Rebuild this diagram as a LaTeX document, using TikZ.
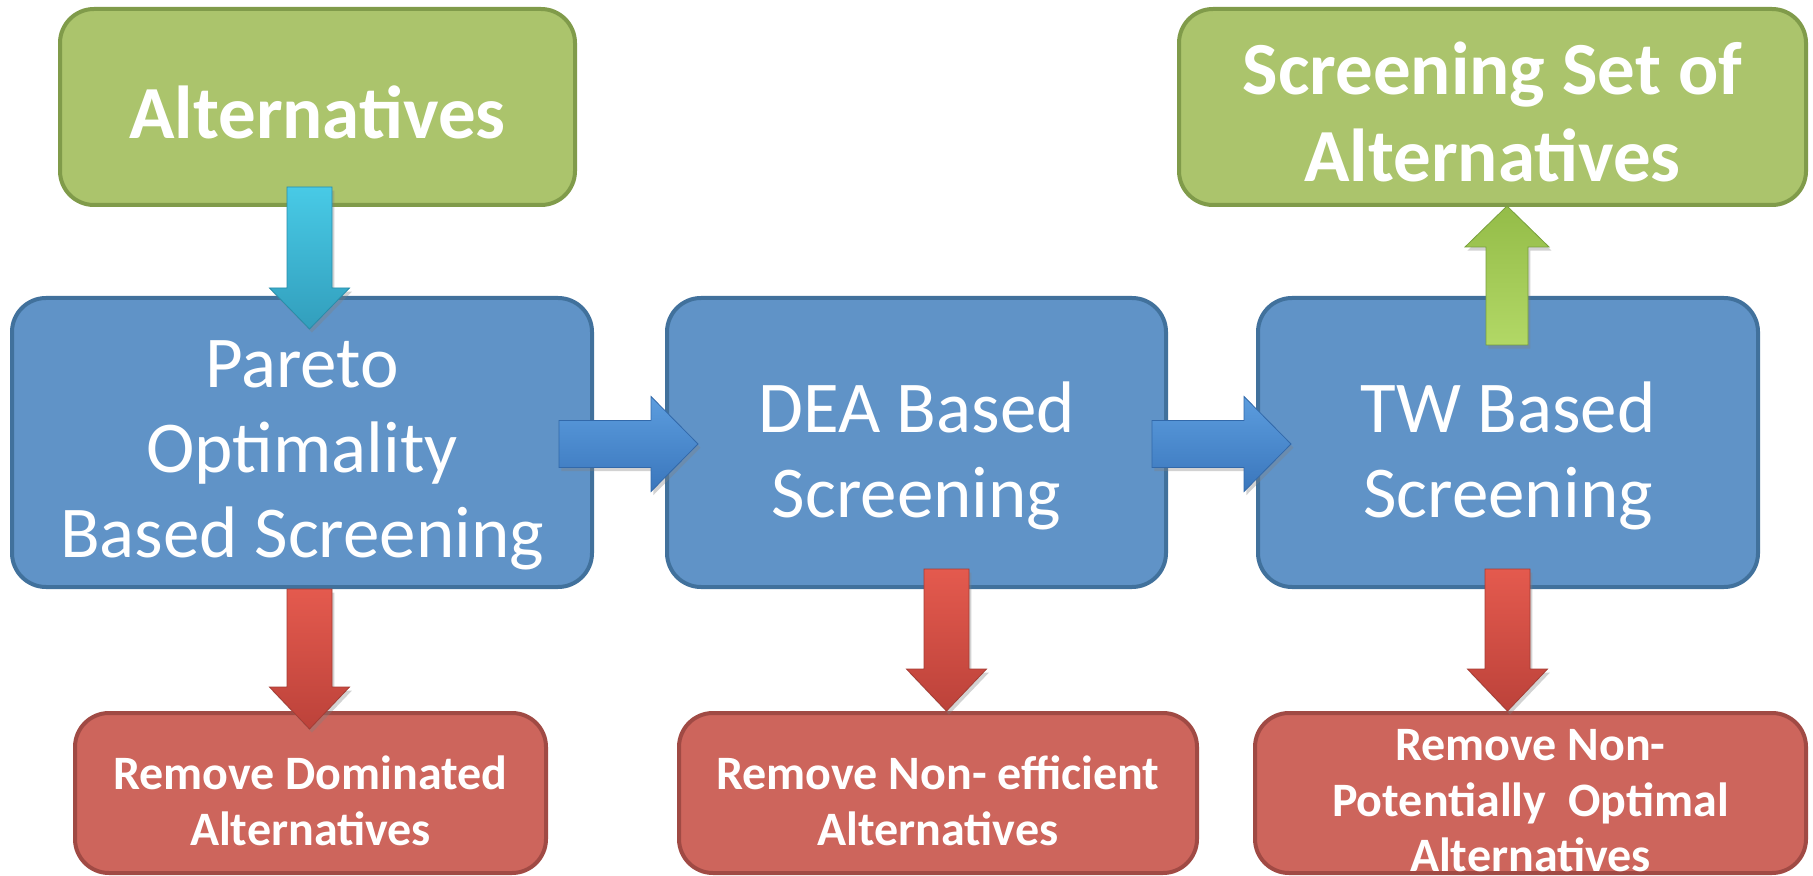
\documentclass[tikz,border=0pt]{standalone}
\usepackage{fontspec}
\setmainfont{Carlito}
\usetikzlibrary{calc,shadows}

\definecolor{boxgreen}{RGB}{171,196,108}
\definecolor{boxgreenline}{RGB}{128,155,74}
\definecolor{boxblue}{RGB}{96,147,199}
\definecolor{boxblueline}{RGB}{65,113,156}
\definecolor{boxred}{RGB}{205,101,92}
\definecolor{boxredline}{RGB}{160,74,68}

% block arrows: #1 style, #2 tail, #3 tip, #4 shaft half width, #5 head half width, #6 head length
\newcommand{\blkdown}[6]{\path[#1] ($(#2)+(-#4,0)$) -- ($(#3)+(-#4,-#6)$) -- ($(#3)+(-#5,-#6)$) -- (#3) -- ($(#3)+(#5,-#6)$) -- ($(#3)+(#4,-#6)$) -- ($(#2)+(#4,0)$) -- cycle;}
\newcommand{\blkup}[6]{\path[#1] ($(#2)+(-#4,0)$) -- ($(#3)+(-#4,#6)$) -- ($(#3)+(-#5,#6)$) -- (#3) -- ($(#3)+(#5,#6)$) -- ($(#3)+(#4,#6)$) -- ($(#2)+(#4,0)$) -- cycle;}
\newcommand{\blkright}[6]{\path[#1] ($(#2)+(0,-#4)$) -- ($(#3)+(-#6,-#4)$) -- ($(#3)+(-#6,-#5)$) -- (#3) -- ($(#3)+(-#6,#5)$) -- ($(#3)+(-#6,#4)$) -- ($(#2)+(0,#4)$) -- cycle;}

\tikzset{
  box/.style={draw, line width=2pt, rounded corners=17pt, inner sep=0pt},
  greenbox/.style={box, fill=boxgreen, draw=boxgreenline},
  bluebox/.style={box, fill=boxblue, draw=boxblueline},
  redbox/.style={box, fill=boxred, draw=boxredline},
  label/.style={inner sep=0pt, text=white, align=center},
  greentext/.style={label, font=\bfseries\fontsize{37.5}{43.5}\selectfont},
  bluetext/.style={label, font=\fontsize{36.5}{42.5}\selectfont},
  redtext/.style={label, font=\bfseries\fontsize{24}{27.75}\selectfont},
  blk/.style={line width=0.4pt, drop shadow={opacity=0.35, shadow xshift=1.2pt, shadow yshift=-1.8pt}},
  cyanblk/.style={blk, top color={rgb,255:red,72;green,202;blue,230}, bottom color={rgb,255:red,50;green,158;blue,188}, draw={rgb,255:red,40;green,140;blue,170}},
  blueblk/.style={blk, top color={rgb,255:red,92;green,157;blue,222}, bottom color={rgb,255:red,58;green,118;blue,188}, draw={rgb,255:red,50;green,105;blue,170}},
  greenblk/.style={blk, top color={rgb,255:red,148;green,188;blue,72}, bottom color={rgb,255:red,178;green,216;blue,102}, draw={rgb,255:red,120;green,160;blue,60}},
  redblk/.style={blk, top color={rgb,255:red,228;green,90;blue,78}, bottom color={rgb,255:red,188;green,66;blue,58}, draw={rgb,255:red,165;green,60;blue,52}},
}

\begin{document}
\begin{tikzpicture}[x=0.5pt, y=-0.5pt]
\useasboundingbox (0,0) rectangle (1813,876);
\fill[white] (0,0) rectangle (1813,876);

% boxes
\node[greenbox, minimum width=257.5pt, minimum height=98pt] (alt) at (317.5,107) {};
\node[greenbox, minimum width=313.5pt, minimum height=98pt] (set) at (1492.5,107) {};
\node[bluebox, minimum width=290pt, minimum height=144.5pt] (par) at (302,442.5) {};
\node[bluebox, minimum width=249.5pt, minimum height=144.5pt] (dea) at (916.5,442.5) {};
\node[bluebox, minimum width=250pt, minimum height=144.5pt] (tw) at (1508,442.5) {};
\node[redbox, minimum width=235.5pt, minimum height=80pt] (rdom) at (310.5,793) {};
\node[redbox, minimum width=259pt, minimum height=80pt] (reff) at (938,793) {};
\node[redbox, minimum width=275.5pt, minimum height=80pt] (ropt) at (1530.5,793) {};

% box texts
\node[greentext] (altT) at ($(alt.center)+(0,5)$) {Alternatives};
\node[greentext] (setT) at ($(set.center)+(0,5)$) {Screening Set of\\Alternatives};
\node[bluetext] (parT) at ($(par.center)+(0,13)$) {Pareto\\Optimality\\Based Screening};
\node[bluetext] (deaT) at ($(dea.center)+(0,13)$) {DEA Based\\Screening};
\node[bluetext] (twT) at ($(tw.center)+(0,13)$) {TW Based\\Screening};
\node[redtext] (rdomT) at ($(rdom.center)+(0,8)$) {Remove Dominated\\Alternatives};
\node[redtext] (reffT) at ($(reff.center)+(0,8)$) {Remove Non- efficient\\Alternatives};
\node[redtext] (roptT) at ($(ropt.center)+(0,8)$) {Remove Non-\\Potentially~ Optimal\\Alternatives};

% arrow ends
\coordinate (inTail) at ($(alt.south)+(-8,-20)$);
\coordinate (inTip) at ($(par.north)+(7.5,33)$);
\coordinate (pdTail) at ($(par.east)+(-35,1.5)$);
\coordinate (pdTip) at ($(dea.west)+(33,1.5)$);
\coordinate (dtTail) at ($(dea.east)+(-16,1.5)$);
\coordinate (dtTip) at ($(tw.west)+(35,1.5)$);
\coordinate (outTail) at ($(tw.north)+(-1,49)$);
\coordinate (outTip) at ($(set.south)+(14.5,-1)$);
\coordinate (r1Tail) at ($(par.south)+(7.5,0)$);
\coordinate (r1Tip) at ($(rdom.north)+(-1,18)$);
\coordinate (r2Tail) at ($(dea.south)+(30,-20)$);
\coordinate (r2Tip) at ($(reff.north)+(8.5,0)$);
\coordinate (r3Tail) at ($(tw.south)+(-0.5,-20)$);
\coordinate (r3Tip) at ($(ropt.north)+(-23,0)$);

% block arrows
\blkdown{cyanblk}{inTail}{inTip}{22.5}{40}{41}
\blkright{blueblk}{pdTail}{pdTip}{23.5}{47.5}{47}
\blkright{blueblk}{dtTail}{dtTip}{23.5}{47.5}{47}
\blkup{greenblk}{outTail}{outTip}{21}{42}{41}
\blkdown{redblk}{r1Tail}{r1Tip}{22.5}{40}{42}
\blkdown{redblk}{r2Tail}{r2Tip}{22.5}{40}{42}
\blkdown{redblk}{r3Tail}{r3Tip}{22.5}{40}{42}
\end{tikzpicture}
\end{document}
